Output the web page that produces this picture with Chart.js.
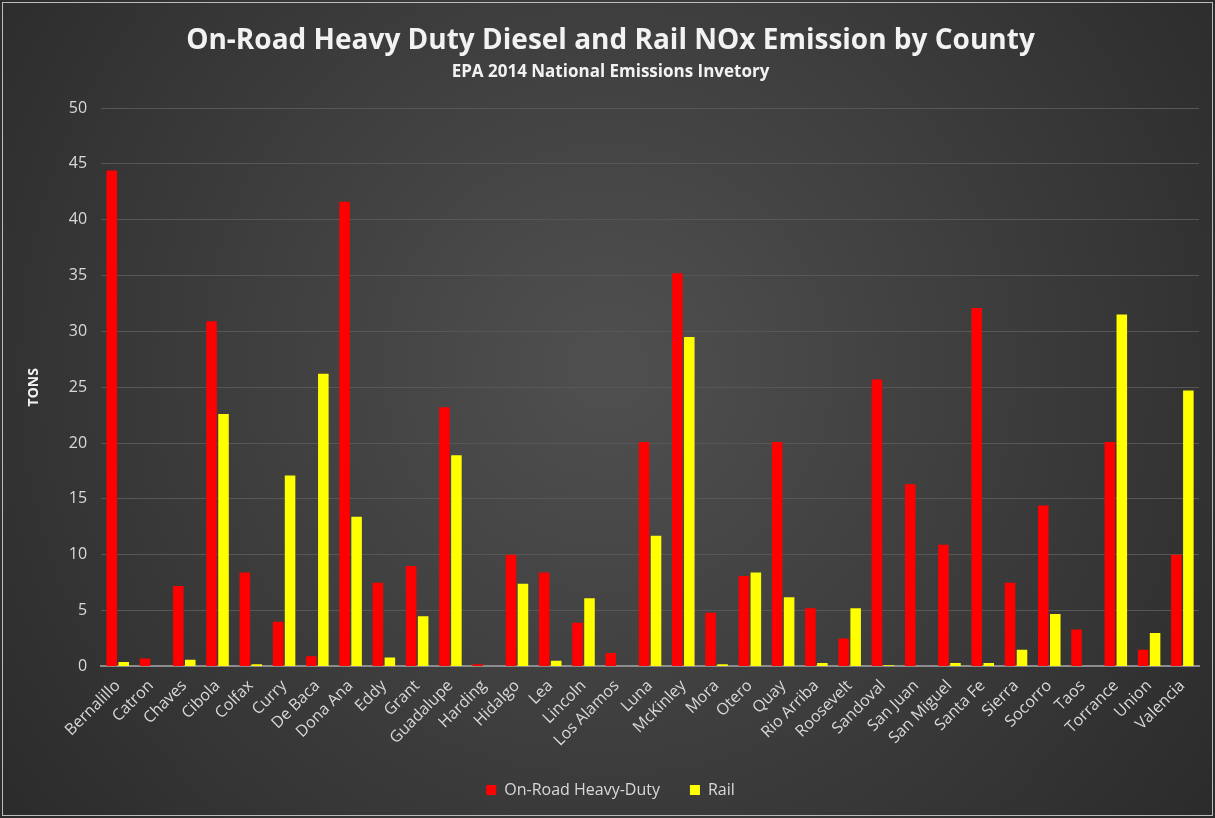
<!DOCTYPE html>
<html>
<head>
<meta charset="utf-8">
<script src="https://cdn.jsdelivr.net/npm/chart.js@4/dist/chart.umd.min.js"></script>
<style>
  html, body { margin: 0; padding: 0; background: #ffffff; }
  #wrap { width: 1215px; height: 818px; }
</style>
</head>
<body>
<div id="wrap"><canvas id="nox_chart" width="1215" height="818"></canvas></div>
<script>
const counties = ['Bernalillo', 'Catron', 'Chaves', 'Cibola', 'Colfax', 'Curry', 'De Baca', 'Dona Ana', 'Eddy', 'Grant',
    'Guadalupe', 'Harding', 'Hidalgo', 'Lea', 'Lincoln', 'Los Alamos', 'Luna', 'McKinley', 'Mora', 'Otero',
    'Quay', 'Rio Arriba', 'Roosevelt', 'Sandoval', 'San Juan', 'San Miguel', 'Santa Fe', 'Sierra', 'Socorro', 'Taos',
    'Torrance', 'Union', 'Valencia'];
const onRoad = [44.4, 0.7, 7.2, 30.9, 8.4, 4.0, 0.9, 41.6, 7.5, 9.0,
    23.2, 0.2, 10.0, 8.4, 3.9, 1.2, 20.1, 35.2, 4.8, 8.1,
    20.1, 5.2, 2.5, 25.7, 16.3, 10.9, 32.1, 7.5, 14.4, 3.3,
    20.1, 1.5, 10.0];
const rail = [0.4, 0, 0.6, 22.6, 0.2, 17.1, 26.2, 13.4, 0.8, 4.5,
    18.9, 0, 7.4, 0.5, 6.1, 0, 11.7, 29.5, 0.2, 8.4,
    6.2, 0.3, 5.2, 0.1, 0, 0.3, 0.3, 1.5, 4.7, 0,
    31.5, 3.0, 24.7];
const yTicks = [0, 5, 10, 15, 20, 25, 30, 35, 40, 45, 50];

// dark radial background + thin border, like the office chart style
const backdrop = {
    id: 'backdrop',
    beforeDraw(chart) {
        const ctx = chart.ctx;
        const w = chart.width, h = chart.height;
        ctx.save();
        const g = ctx.createRadialGradient(w * 0.5, h * 0.45, 20, w * 0.5, h * 0.45, w * 0.7);
        g.addColorStop(0, '#4f4f4f');
        g.addColorStop(1, '#262626');
        ctx.fillStyle = g;
        ctx.fillRect(0, 0, w, h);
        ctx.strokeStyle = '#bcbcbc';
        ctx.lineWidth = 1;
        ctx.strokeRect(2.5, 2.5, w - 5, h - 5);
        ctx.restore();
    }
};

const labelColor = '#d9d9d9';
const font = '"Open Sans", "Noto Sans", sans-serif';

new Chart(document.getElementById('nox_chart'), {
    type: 'bar',
    data: {
        labels: counties,
        datasets: [
            { label: 'On-Road Heavy-Duty', data: onRoad, backgroundColor: '#ff0000', categoryPercentage: 0.72, barPercentage: 0.88 },
            { label: 'Rail', data: rail, backgroundColor: '#ffff00', categoryPercentage: 0.72, barPercentage: 0.88 }
        ]
    },
    options: {
        responsive: false,
        animation: false,
        layout: { padding: { left: 22, right: 16, top: 6, bottom: 10 } },
        plugins: {
            title: {
                display: true,
                text: 'On-Road Heavy Duty Diesel and Rail NOx Emission by County',
                color: '#f2f2f2',
                font: { family: font, size: 28, weight: 'bold' },
                padding: { top: 18, bottom: 2 }
            },
            subtitle: {
                display: true,
                text: 'EPA 2014 National Emissions Invetory',
                color: '#f2f2f2',
                font: { family: font, size: 17, weight: 'bold' },
                padding: { top: 2, bottom: 26 }
            },
            legend: {
                position: 'bottom',
                labels: {
                    color: labelColor,
                    font: { family: font, size: 16 },
                    boxWidth: 10,
                    boxHeight: 10,
                    padding: 30
                }
            },
            tooltip: { enabled: false }
        },
        scales: {
            x: {
                grid: { display: false },
                border: { color: '#8c8c8c', width: 2 },
                ticks: {
                    color: labelColor,
                    font: { family: font, size: 16 },
                    maxRotation: 45,
                    minRotation: 45,
                    autoSkip: false,
                    padding: 2
                }
            },
            y: {
                min: 0,
                max: 50,
                afterBuildTicks: (axis) => { axis.ticks = yTicks.map(v => ({ value: v })); },
                grid: { color: '#575757', lineWidth: 1, drawTicks: false },
                border: { display: false },
                ticks: {
                    color: labelColor,
                    font: { family: font, size: 16 },
                    padding: 14
                },
                title: {
                    display: true,
                    text: 'TONS',
                    color: '#f2f2f2',
                    font: { family: font, size: 14, weight: 'bold' },
                    padding: { bottom: 12 }
                }
            }
        }
    },
    plugins: [backdrop]
});
</script>
</body>
</html>
